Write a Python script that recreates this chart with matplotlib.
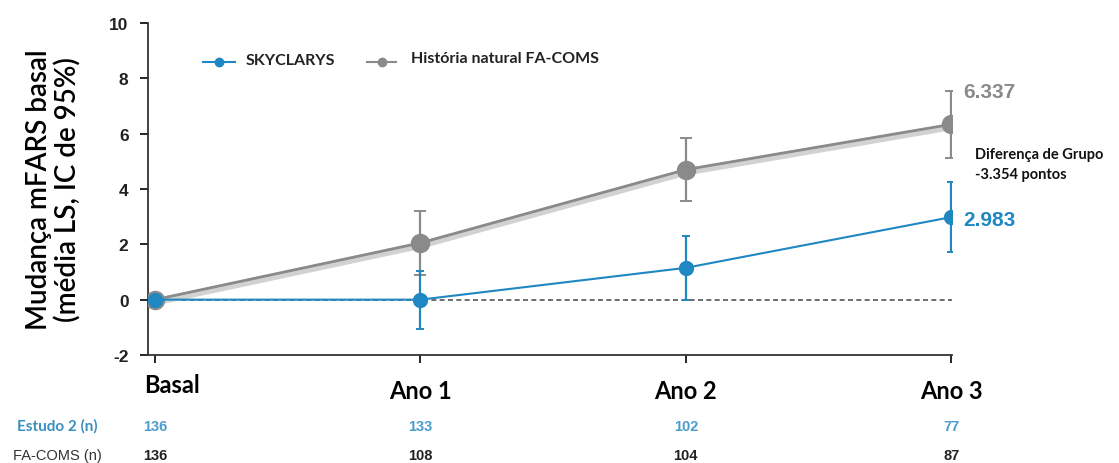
import matplotlib
matplotlib.use("Agg")
import matplotlib.pyplot as plt

# data
timepoints = ["Basal", "Ano 1", "Ano 2", "Ano 3"]
sky_mean = [0.0, 0.0, 1.15, 2.983]
sky_err = [0.0, 1.05, 1.15, 1.27]
fac_mean = [0.0, 2.05, 4.70, 6.337]
fac_err = [0.0, 1.15, 1.15, 1.22]
n_estudo2 = ["136", "133", "102", "77"]
n_facoms = ["136", "108", "104", "87"]

BLUE = "#1f87c1"
GRAY = "#8a8a8a"
CAL = ["Lato", "DejaVu Sans"]
ARIAL = ["Liberation Sans", "DejaVu Sans"]

fig = plt.figure(figsize=(11.19, 4.64), dpi=100)
ax = fig.add_axes([0.1323, 0.2328, 0.7185, 0.7155])
x = list(range(len(timepoints)))

ax.axhline(0, xmin=0, xmax=1, color="#555555", ls=(0, (3, 2)), lw=1.2, zorder=1)

# FA-COMS (gray, with a soft shadow)
ax.plot(x, [v - 0.09 for v in fac_mean], color="#d2d2d2", lw=5, zorder=2, solid_capstyle="round")
ax.errorbar(x, fac_mean, yerr=fac_err, color=GRAY, lw=2.0, marker="o", ms=13,
            ecolor=GRAY, elinewidth=1.6, capsize=4, capthick=1.4, zorder=3)
# SKYCLARYS (blue)
ax.errorbar(x, sky_mean, yerr=sky_err, color=BLUE, lw=1.5, marker="o", ms=10,
            ecolor=BLUE, elinewidth=1.6, capsize=3, capthick=1.4, zorder=4)

ax.set_xlim(-0.026, 3.003)
ax.set_ylim(-2, 10)
ax.set_yticks(range(-2, 11, 2))
ax.set_yticklabels([str(v) for v in range(-2, 11, 2)], fontfamily=ARIAL,
                   fontsize=12.5, fontweight="bold", color="#222222")
ax.set_xticks(x)
ax.set_xticklabels([])
ax.tick_params(axis="y", length=6, width=1.2, pad=8)
ax.tick_params(axis="x", length=6, width=1.2)
for s in ["top", "right"]:
    ax.spines[s].set_visible(False)
for s in ["left", "bottom"]:
    ax.spines[s].set_linewidth(1.3)
    ax.spines[s].set_color("#333333")

ax.set_ylabel("Mudança mFARS basal\n(média LS, IC de 95%)", fontfamily=CAL,
              fontsize=20, fontweight="semibold", labelpad=20, linespacing=1.1)

# x labels (Basal sits a little higher)
for i, lab in enumerate(timepoints):
    xo = 0.065 if i == 0 else 0.0
    yo = -3.05 if i == 0 else -3.3
    ax.text(i + xo, yo, lab, ha="center", va="center", fontfamily=CAL,
            fontsize=17, fontweight="bold", clip_on=False)

# n rows
ax.text(-0.366, -4.55, "Estudo 2 (n)", ha="center", va="center", fontfamily=CAL,
        fontsize=11, fontweight="bold", color="#3a8fc0", clip_on=False)
ax.text(-0.366, -5.6, "FA-COMS (n)", ha="center", va="center", fontfamily=ARIAL,
        fontsize=10.5, color="#333333", clip_on=False)
for i in x:
    ax.text(i, -4.55, n_estudo2[i], ha="center", va="center", fontfamily=ARIAL,
            fontsize=10.5, fontweight="bold", color="#4a9ccc", clip_on=False)
    ax.text(i, -5.6, n_facoms[i], ha="center", va="center", fontfamily=ARIAL,
            fontsize=10.5, fontweight="bold", color="#222222", clip_on=False)

# value annotations
ax.text(3.045, fac_mean[3] + fac_err[3] - 0.05, f"{fac_mean[3]:.3f}", ha="left", va="center",
        fontfamily=ARIAL, fontsize=15, fontweight="bold", color=GRAY, clip_on=False)
ax.text(3.045, sky_mean[3] - 0.1, f"{sky_mean[3]:.3f}", ha="left", va="center",
        fontfamily=ARIAL, fontsize=15, fontweight="bold", color=BLUE, clip_on=False)
diff = sky_mean[3] - fac_mean[3]
ax.text(3.09, 4.9, f"Diferença de Grupo\n{diff:.3f} pontos", ha="left", va="center",
        fontfamily=CAL, fontsize=10.5, fontweight="bold", color="#111111",
        linespacing=1.6, clip_on=False)

# legend
ax.plot([0.18, 0.3], [8.6, 8.6], color=BLUE, lw=1.5, clip_on=False)
ax.plot([0.24], [8.6], "o", color=BLUE, ms=6)
ax.text(0.34, 8.65, "SKYCLARYS", ha="left", va="center", fontfamily=CAL,
        fontsize=11.5, fontweight="bold", color="#222222")
ax.plot([0.8, 0.91], [8.6, 8.6], color=GRAY, lw=1.5)
ax.plot([0.855], [8.6], "o", color=GRAY, ms=6)
ax.text(0.965, 8.72, "História natural FA-COMS", ha="left", va="center", fontfamily=CAL,
        fontsize=11.5, fontweight="bold", color="#222222")

fig.savefig("out.png", dpi=100)
